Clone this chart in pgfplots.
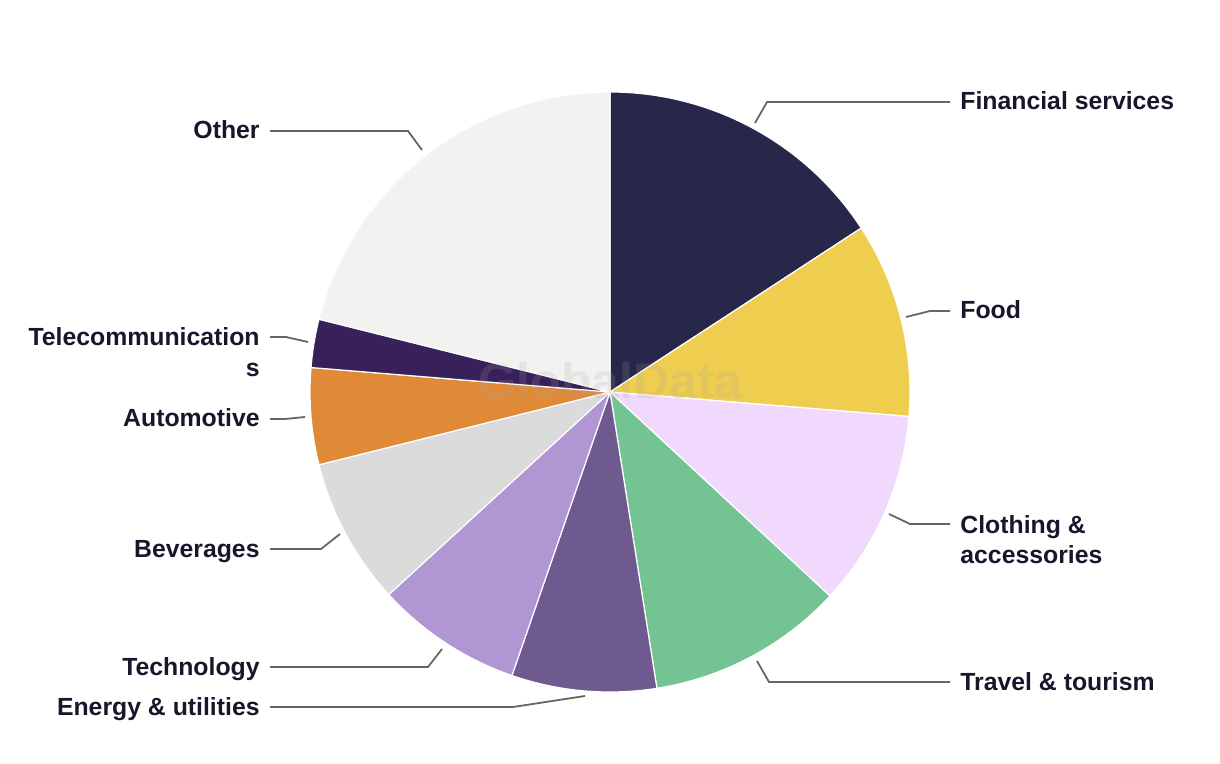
\documentclass[border=0pt]{standalone}
\usepackage{fontspec}
\setmainfont{Liberation Sans}
\usepackage{pgfplots}
\usepackage{pgfplotstable}
\pgfplotsset{compat=1.18}

\definecolor{cFin}{HTML}{27274A}
\definecolor{cFood}{HTML}{EFCD4F}
\definecolor{cCloth}{HTML}{F1D9FD}
\definecolor{cTravel}{HTML}{74C393}
\definecolor{cEnergy}{HTML}{6E5A8E}
\definecolor{cTech}{HTML}{B096D2}
\definecolor{cBev}{HTML}{DBDBDB}
\definecolor{cAuto}{HTML}{E08A38}
\definecolor{cTele}{HTML}{38215A}
\definecolor{cOther}{HTML}{F2F2F0}
\definecolor{cTxt}{HTML}{17172B}
\definecolor{cLine}{HTML}{666666}

\tikzset{
  lbl/.style={font=\fontsize{12.4}{15}\selectfont\bfseries, text=cTxt, inner sep=0pt},
  ldr/.style={draw=cLine, line width=0.9pt},
}

% share of each sector (percent), clockwise from 12 o'clock
\pgfplotstableread[col sep=comma]{
label,value,color
Financial services,15.8,cFin
Food,10.5,cFood
Clothing & accessories,10.6,cCloth
Travel & tourism,10.6,cTravel
Energy & utilities,7.8,cEnergy
Technology,7.9,cTech
Beverages,7.9,cBev
Automotive,5.2,cAuto
Telecommunications,2.6,cTele
Other,21.1,cOther
}\piedata

\newcommand\slice[3]{%
  \fill[#3, draw=white, line width=0.6pt] (axis cs:610,392) -- ++(#1:150pt)
    arc[start angle=#1, end angle=#2, radius=150pt] -- cycle;}

\begin{document}
\def\allslices{}%
\def\cum{0}%
\pgfplotsforeachungrouped \i in {0,...,9}{%
  \pgfplotstablegetelem{\i}{value}\of\piedata \let\sliceval\pgfplotsretval
  \pgfplotstablegetelem{\i}{color}\of\piedata \let\slicecol\pgfplotsretval
  \pgfmathsetmacro\angA{90-3.6*\cum}%
  \pgfmathsetmacro\cum{\cum+\sliceval}%
  \pgfmathsetmacro\angB{90-3.6*\cum}%
  \edef\allslices{\unexpanded\expandafter{\allslices}\noexpand\slice{\angA}{\angB}{\slicecol}}%
}%
\begin{tikzpicture}
\begin{axis}[
  width=610pt, height=382pt, scale only axis,
  xmin=0, xmax=1220, ymin=0, ymax=764, y dir=reverse,
  hide axis, clip=false,
]
\path (axis cs:0,0) rectangle (axis cs:1220,764);
\allslices
\node[font=\fontsize{25}{30}\selectfont\bfseries, text=gray!70, opacity=0.18, anchor=base, inner sep=0pt]
  at (axis cs:610,399) {GlobalData};

% leader lines
\draw[ldr] (axis cs:755,123) -- (axis cs:767,102) -- (axis cs:950,102);
\draw[ldr] (axis cs:906,317) -- (axis cs:930,311) -- (axis cs:950,311);
\draw[ldr] (axis cs:889,514) -- (axis cs:910,524) -- (axis cs:950,524);
\draw[ldr] (axis cs:757,661) -- (axis cs:769,682) -- (axis cs:950,682);
\draw[ldr] (axis cs:585,696) -- (axis cs:513,707) -- (axis cs:270,707);
\draw[ldr] (axis cs:442,649) -- (axis cs:428,667) -- (axis cs:270,667);
\draw[ldr] (axis cs:340,534) -- (axis cs:321,549) -- (axis cs:270,549);
\draw[ldr] (axis cs:305,417) -- (axis cs:285,419) -- (axis cs:270,419);
\draw[ldr] (axis cs:308,342) -- (axis cs:286,337) -- (axis cs:270,337);
\draw[ldr] (axis cs:422,150) -- (axis cs:408,131) -- (axis cs:270,131);

% labels
\node[lbl, anchor=base west] at (axis cs:960,110) {Financial services};
\node[lbl, anchor=base west] at (axis cs:960,319) {Food};
\node[lbl, anchor=base west] at (axis cs:960,533) {Clothing \&};
\node[lbl, anchor=base west] at (axis cs:960,563) {accessories};
\node[lbl, anchor=base west] at (axis cs:960,690) {Travel \& tourism};
\node[lbl, anchor=base east] at (axis cs:260,715) {Energy \& utilities};
\node[lbl, anchor=base east] at (axis cs:260,675) {Technology};
\node[lbl, anchor=base east] at (axis cs:260,557) {Beverages};
\node[lbl, anchor=base east] at (axis cs:260,427) {Automotive};
\node[lbl, anchor=base east] at (axis cs:260,346) {Telecommunication};
\node[lbl, anchor=base east] at (axis cs:260,377) {s};
\node[lbl, anchor=base east] at (axis cs:260,139) {Other};
\end{axis}
\end{tikzpicture}
\end{document}
